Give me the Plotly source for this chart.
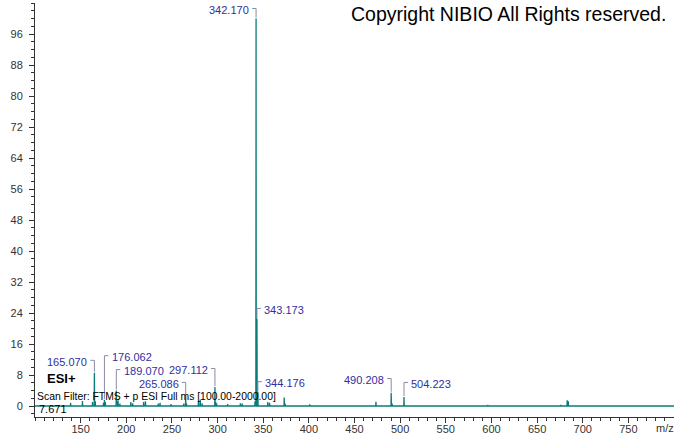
import plotly.graph_objects as go

# ---------------- data ----------------
peak_mz = [139.0, 152.0, 163.0, 165.070, 166.0, 175.0, 176.062, 177.0, 189.070, 190.0, 191.0,
           193.0, 205.0, 207.0, 219.0, 221.0, 235.0, 237.0, 249.0, 263.0, 265.086, 266.0,
           279.0, 281.0, 283.0, 297.112, 298.0, 299.0, 311.0, 325.0, 327.0, 341.0, 342.170,
           343.173, 344.176, 355.0, 357.0, 373.0, 374.0, 401.0, 473.5, 490.208, 491.2,
           504.223, 596.0, 676.0, 683.0, 684.2]
peak_int = [0.8, 1.3, 1.0, 8.6, 1.2, 0.8, 1.6, 1.0, 4.0, 1.2, 1.5,
            0.6, 1.0, 0.7, 1.0, 1.2, 0.6, 0.8, 0.5, 0.6, 2.8, 0.6,
            1.3, 1.6, 0.7, 4.9, 1.0, 0.6, 0.5, 0.7, 0.6, 1.2, 100.0,
            22.5, 3.6, 1.0, 0.8, 2.2, 0.6, 0.4, 1.1, 3.4, 0.6,
            2.3, 0.3, 0.3, 1.5, 1.2]

label_mz = [342.170, 343.173, 344.176, 165.070, 176.062, 189.070, 265.086, 297.112, 490.208, 504.223]
label_text = ["342.170", "343.173", "344.176", "165.070", "176.062", "189.070",
              "265.086", "297.112", "490.208", "504.223"]

x_ticks = [150, 200, 250, 300, 350, 400, 450, 500, 550, 600, 650, 700, 750]
y_ticks = [0, 8, 16, 24, 32, 40, 48, 56, 64, 72, 80, 88, 96]

# ---------------- layout constants ----------------
W, H = 674, 434
ML, MR, MT, MB = 35, 0, 3, 17
XR = [100, 800]
YR = [-2.84, 104]
px_x = (XR[1] - XR[0]) / (W - ML - MR)   # m/z per pixel
px_y = (YR[1] - YR[0]) / (H - MT - MB)   # % per pixel

label_y = [102.2, 24.8, 5.9, 11.4, 12.6, 9.0, 5.7, 9.3, 6.7, 5.7]
label_side = ["L", "R", "R", "L", "R", "R", "L", "L", "L", "R"]

TEAL = "#0b7c7a"
LBL = "#2f2fa0"
BRK = "#8a8aa8"
FONT = "Liberation Sans, Arial, sans-serif"

# stick spectrum as a profile line
order = sorted(range(len(peak_mz)), key=lambda i: peak_mz[i])
xs, ys = [XR[0]], [0]
for i in order:
    m, h = peak_mz[i], peak_int[i]
    xs += [m - 0.25, m, m + 0.25]
    ys += [0, h, 0]
xs.append(XR[1])
ys.append(0)

fig = go.Figure()
fig.add_trace(go.Scatter(x=xs, y=ys, mode="lines", line=dict(color=TEAL, width=1.3),
                         hoverinfo="skip", showlegend=False))

# label brackets
peak_lookup = dict(zip(peak_mz, peak_int))
bx, by = [], []
for m, t, yl, side in zip(label_mz, label_text, label_y, label_side):
    h = peak_lookup.get(m, 0)
    yb = yl + 1.5 * px_y
    dx = 4 * px_x * (-1 if side == "L" else 1)
    bx += [m + dx, m, m, None]
    by += [yb, yb, h + 1.0 * px_y, None]
    fig.add_annotation(x=m + dx * 1.3, y=yl, text=t, showarrow=False,
                       xanchor="right" if side == "L" else "left", yanchor="middle",
                       font=dict(family=FONT, size=11, color=LBL))
fig.add_trace(go.Scatter(x=bx, y=by, mode="lines", line=dict(color=BRK, width=1),
                         hoverinfo="skip", showlegend=False))

# texts
fig.add_annotation(xref="paper", yref="paper", x=(668 - ML) / (W - ML - MR),
                   y=(H - MB - 14) / (H - MT - MB), text="Copyright NIBIO All Rights reserved.",
                   showarrow=False, xanchor="right", yanchor="middle",
                   font=dict(family=FONT, size=19.5, color="black"))
fig.add_annotation(x=XR[0] + 10 * px_x, y=(406 - 378) * px_y, text="<b>ESI+</b>", showarrow=False,
                   xanchor="left", yanchor="middle", font=dict(family=FONT, size=13, color="black"))
fig.add_annotation(x=XR[0] + 0 * px_x, y=(406 - 396) * px_y,
                   text="Scan Filter: FTMS + p ESI Full ms [100.00-2000.00]", showarrow=False,
                   xanchor="left", yanchor="middle", font=dict(family=FONT, size=10.4, color="black"))
fig.add_annotation(x=XR[0] + 2 * px_x, y=(406 - 409) * px_y, text="7.671", showarrow=False,
                   xanchor="left", yanchor="middle", font=dict(family=FONT, size=11, color="black"))
fig.add_annotation(xref="paper", yref="paper", x=(665 - ML) / (W - ML - MR), y=0, yshift=-11,
                   text="m/z", showarrow=False, xanchor="center", yanchor="middle",
                   font=dict(family=FONT, size=11, color="#333"))

fig.update_layout(
    width=W, height=H, margin=dict(l=ML, r=MR, t=MT, b=MB, autoexpand=False),
    paper_bgcolor="white", plot_bgcolor="white",
    font=dict(family=FONT, size=11, color="#333"),
    xaxis=dict(range=XR, tickvals=x_ticks, ticktext=[str(v) for v in x_ticks],
               automargin=False, ticklabelstandoff=-3,
               ticks="outside", ticklen=5, tickcolor="#333", showgrid=False, zeroline=False,
               showline=True, linecolor="#333", linewidth=1,
               minor=dict(dtick=10, tick0=100, ticks="outside", ticklen=3, tickcolor="#333")),
    yaxis=dict(range=YR, tickvals=y_ticks, ticks="outside", ticklen=5, tickcolor="#333",
               automargin=False,
               showgrid=False, zeroline=False, showline=True, linecolor="#333", linewidth=1,
               ticklabelstandoff=4,
               minor=dict(dtick=2, tick0=0, ticks="outside", ticklen=3, tickcolor="#333")),
)

fig.write_html("out.html", config={"displayModeBar": False},
               post_script="document.body.style.margin='0';")
